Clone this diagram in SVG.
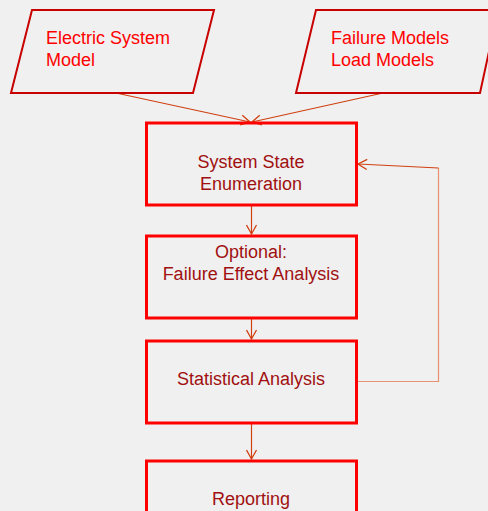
<svg xmlns="http://www.w3.org/2000/svg" width="488" height="511" viewBox="0 0 488 511">
<defs>
<style>
.io{fill:none;stroke:#c80000;stroke-width:2;stroke-linejoin:miter}
.box{fill:none;stroke:#ff0000;stroke-width:3}
.t1{font-family:"Liberation Sans",Arial,sans-serif;font-size:18px;fill:#ff0000}
.t2{font-family:"Liberation Sans",Arial,sans-serif;font-size:18px;fill:#a01010;text-anchor:middle}
.c{fill:none;stroke:#d04010;stroke-width:1.2}
.fb{fill:none;stroke:#e89070;stroke-width:1.2}
</style>
<marker id="ah" markerWidth="12" markerHeight="12" refX="10" refY="6" orient="auto" markerUnits="userSpaceOnUse">
<path d="M1,1 L10,6 L1,11" fill="none" stroke="#d04010" stroke-width="1.3"/>
</marker>
</defs>
<rect width="488" height="511" fill="#f0f0f0"/>
<g id="connectors">
<line class="c" x1="116" y1="93" x2="250" y2="122" marker-end="url(#ah)"/>
<line class="c" x1="383" y1="93" x2="252" y2="122" marker-end="url(#ah)"/>
<line class="c" x1="251.5" y1="205" x2="251.5" y2="234" marker-end="url(#ah)"/>
<line class="c" x1="251.5" y1="318" x2="251.5" y2="339" marker-end="url(#ah)"/>
<line class="c" x1="251.5" y1="423" x2="251.5" y2="459" marker-end="url(#ah)"/>
<polyline class="fb" points="358,381.5 438.5,381.5 438.5,168"/>
<line class="c" x1="438.5" y1="168" x2="358" y2="164" marker-end="url(#ah)"/>
</g>
<g id="electric-system-model">
<polygon class="io" points="32,10 214,10 193,93 11,93"/>
<text class="t1" x="46" y="44">Electric System</text>
<text class="t1" x="46" y="66">Model</text>
</g>
<g id="failure-load-models">
<polygon class="io" points="316,10 498,10 480,93 296,93"/>
<text class="t1" x="331" y="44">Failure Models</text>
<text class="t1" x="331" y="66">Load Models</text>
</g>
<g id="system-state-enumeration">
<rect class="box" x="146.5" y="123" width="210" height="82"/>
<text class="t2" x="251" y="168">System State</text>
<text class="t2" x="251" y="190">Enumeration</text>
</g>
<g id="failure-effect-analysis">
<rect class="box" x="146.5" y="236" width="210" height="82"/>
<text class="t2" x="251" y="258">Optional:</text>
<text class="t2" x="251" y="280">Failure Effect Analysis</text>
</g>
<g id="statistical-analysis">
<rect class="box" x="146.5" y="341" width="210" height="82"/>
<text class="t2" x="251" y="385">Statistical Analysis</text>
</g>
<g id="reporting">
<rect class="box" x="146.5" y="461" width="210" height="82"/>
<text class="t2" x="251" y="505">Reporting</text>
</g>
</svg>
